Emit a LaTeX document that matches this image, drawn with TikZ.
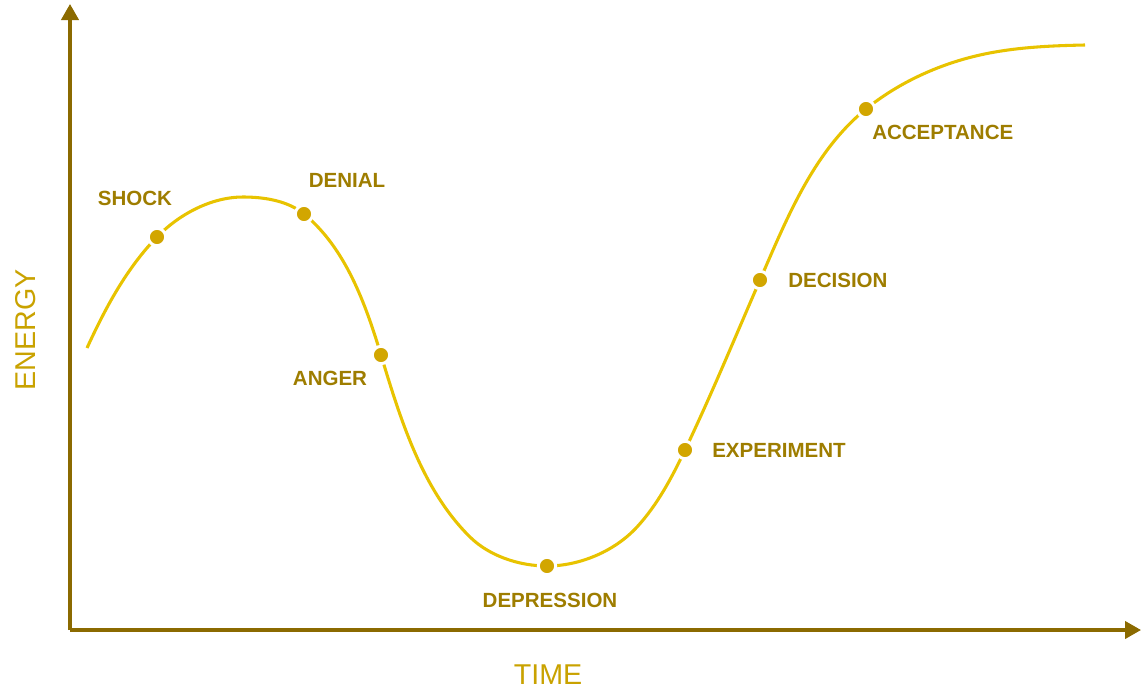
\documentclass[tikz,border=0pt]{standalone}
\usepackage{fontspec}
\setmainfont{Liberation Sans}
\usetikzlibrary{arrows.meta}
\definecolor{axiscol}{HTML}{8B6A00}
\definecolor{curvecol}{HTML}{E8C300}
\definecolor{dotcol}{HTML}{D2A600}
\definecolor{labcol}{HTML}{9E7D00}
\definecolor{axlab}{HTML}{C9A200}
\tikzset{
  axisline/.style={draw=axiscol,line width=2.3pt,-{Triangle[width=13pt,length=12pt]}},
  curveline/.style={draw=curvecol,line width=2.3pt},
  stagedot/.style={circle,fill=dotcol,draw=white,line width=2.2pt,minimum size=13pt,inner sep=0pt},
  stagelab/.style={text=labcol,font=\bfseries\fontsize{15.4pt}{17pt}\selectfont,inner sep=0pt},
  axislab/.style={text=axlab,font=\fontsize{21.5pt}{24pt}\selectfont,inner sep=0pt}
}
\begin{document}
\begin{tikzpicture}[x=0.75pt,y=-0.75pt]
\useasboundingbox (0,0) rectangle (1143,689);
\coordinate (O) at (70,630);
\coordinate (Ytop) at (70,4);
\coordinate (Xend) at (1141,630);
\draw[axisline] (O) -- (Ytop);
\draw[axisline] (O) -- (Xend);
\node[axislab,rotate=90] (energy) at (26,330) {ENERGY};
\node[axislab] (time) at (548,675) {TIME};
% curve anchor points
\coordinate (c0) at (87,348);
\coordinate (c1) at (157,237);
\coordinate (c2) at (243,197);
\coordinate (c3) at (304,214);
\coordinate (c4) at (381,355);
\coordinate (c5) at (470,537);
\coordinate (c6) at (547,566);
\coordinate (c7) at (637,527);
\coordinate (c8) at (685,450);
\coordinate (c9) at (760,280);
\coordinate (c10) at (866,109);
\coordinate (c11) at (980,55);
\coordinate (c12) at (1085,45);
\draw[curveline] (c0)
  .. controls (105.3,308.2) and (126.4,268.5) .. (c1)
  .. controls (179.1,214.2) and (211.4,197) .. (c2)
  .. controls (264.1,197) and (287.8,200.7) .. (c3)
  .. controls (345.3,247.8) and (365.5,303.5) .. (c4)
  .. controls (400.6,419.8) and (422.1,489.7) .. (c5)
  .. controls (489.5,556.2) and (519.6,566) .. (c6)
  .. controls (579.7,566) and (614.8,551.2) .. (c7)
  .. controls (657.5,504.7) and (672,477.2) .. (c8)
  .. controls (711.6,394.3) and (735.2,336.9) .. (c9)
  .. controls (786.8,218.3) and (813.7,151.3) .. (c10)
  .. controls (898.8,82.5) and (939,64.2) .. (c11)
  .. controls (1014.4,47.3) and (1049.8,45.7) .. (c12);
\node[stagedot] (shock) at (c1) {};
\node[stagedot] (denial) at (c3) {};
\node[stagedot] (anger) at (c4) {};
\node[stagedot] (depression) at (c6) {};
\node[stagedot] (experiment) at (c8) {};
\node[stagedot] (decision) at (c9) {};
\node[stagedot] (acceptance) at (c10) {};
\node[stagelab] (lshock) at (135,198) {SHOCK};
\node[stagelab] (ldenial) at (347,180) {DENIAL};
\node[stagelab] (langer) at (330,378) {ANGER};
\node[stagelab] (ldepression) at (550,600) {DEPRESSION};
\node[stagelab,anchor=west] (lexperiment) at (712,450) {EXPERIMENT};
\node[stagelab,anchor=west] (ldecision) at (788,280) {DECISION};
\node[stagelab,anchor=west] (lacceptance) at (872,132) {ACCEPTANCE};
\end{tikzpicture}
\end{document}
